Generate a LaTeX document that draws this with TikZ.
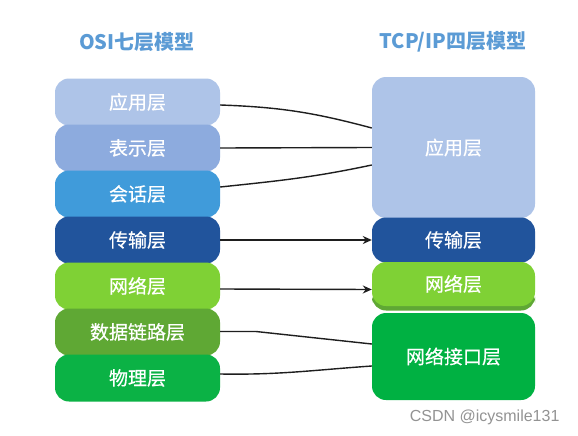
\documentclass[tikz,border=0pt]{standalone}
\usepackage{fontspec}
\setmainfont{Noto Sans CJK SC}
\newfontfamily\lyrfont[FakeBold=0.5]{Noto Sans CJK SC}
\newfontfamily\wmfont{Liberation Sans}
\usetikzlibrary{arrows.meta}
\definecolor{cApp}{HTML}{AEC4E8}
\definecolor{cPre}{HTML}{8DABDE}
\definecolor{cSes}{HTML}{409BDA}
\definecolor{cTra}{HTML}{21549C}
\definecolor{cNet}{HTML}{7FD135}
\definecolor{cDat}{HTML}{5FA834}
\definecolor{cPhy}{HTML}{0BB245}
\definecolor{cIf}{HTML}{00B142}
\definecolor{cTitle}{HTML}{5B9BD5}
\definecolor{cLine}{HTML}{1E1E1E}
\tikzset{
  layer/.style={rectangle, rounded corners=14pt, inner sep=0pt, text=white,
    font=\lyrfont\fontsize{19}{22}\selectfont, draw=none},
  osibox/.style={layer, minimum width=165pt, minimum height=47pt},
  tcpbox/.style={layer, minimum width=163pt},
  conn/.style={draw=cLine, line width=1.4pt},
  arr/.style={conn, -{Stealth[length=9pt,width=8pt]}},
  title/.style={text=cTitle, font=\bfseries\fontsize{20}{23}\selectfont}
}
\begin{document}
\begin{tikzpicture}[x=1pt,y=-1pt]
\useasboundingbox (0,0) rectangle (578,436);
\fill[white] (0,0) rectangle (578,436);
% titles
\node[title] (t1) at (137,42) {OSI七层模型};
\node[title] (t2) at (453,42) {TCP/IP四层模型};
% OSI column
\node[osibox, fill=cApp] (o1) at (137.5,102) {应用层};
\node[osibox, fill=cPre] (o2) at (137.5,148) {表示层};
\node[osibox, fill=cSes] (o3) at (137.5,194) {会话层};
\node[osibox, fill=cTra] (o4) at (137.5,240) {传输层};
\node[osibox, fill=cNet] (o5) at (137.5,286) {网络层};
\node[osibox, fill=cDat] (o6) at (137.5,332) {数据链路层};
\node[osibox, fill=cPhy] (o7) at (137.5,378) {物理层};
% TCP/IP column
\node[tcpbox, fill=cApp, minimum height=141pt] (p1) at (453.5,147.5) {应用层};
\node[tcpbox, fill=cTra, minimum height=45pt] (p2) at (453.5,240) {传输层};
\node[tcpbox, fill=cDat, minimum height=22pt] (p3b) at (453.5,299.5) {};
\node[tcpbox, fill=cNet, minimum height=44pt] (p3) at (453.5,284) {网络层};
\node[tcpbox, fill=cIf, minimum height=87pt] (p4) at (453.5,356.5) {网络接口层};
% connectors
\draw[conn] ([yshift=-3pt]o1.east) to[out=-2,in=165] ([yshift=19.5pt]p1.west);
\draw[conn] (o2.east) -- (p1.west);
\draw[conn] ([yshift=7pt]o3.east) to[out=6,in=192] ([yshift=-17.5pt]p1.west);
\draw[arr] (o4.east) -- (p2.west);
\draw[arr] ([yshift=-3pt]o5.east) -- ([yshift=-5.5pt]p3.west);
\coordinate (k6) at (256,331.5);
\draw[conn] ([yshift=0.5pt]o6.east) -- (k6) -- ([yshift=12.5pt]p4.west);
\draw[conn] ([yshift=4pt]o7.east) to[out=-1,in=184] ([yshift=-9.5pt]p4.west);
% watermark
\node[text=gray!85, font=\wmfont\fontsize{16}{18}\selectfont, anchor=east] (wm) at (563,417) {CSDN @icysmile131};
\end{tikzpicture}
\end{document}
